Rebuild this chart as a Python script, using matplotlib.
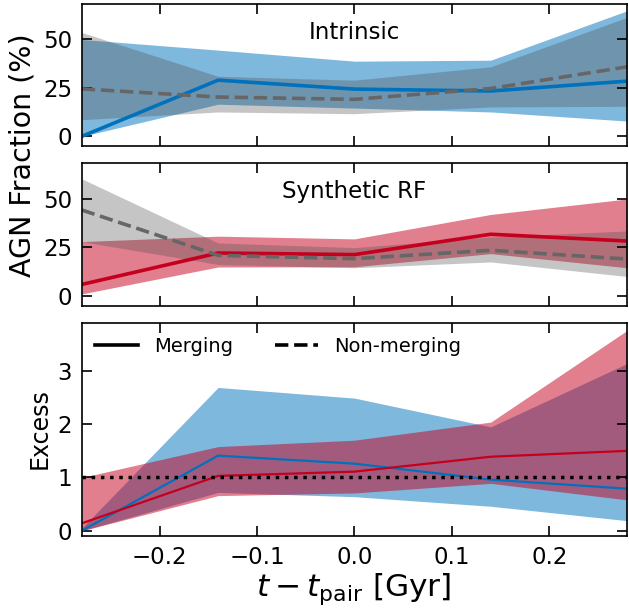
import numpy as np
import matplotlib
matplotlib.use('Agg')
import matplotlib.pyplot as plt

# time bins
t = [-0.28, -0.14, 0.0, 0.14, 0.28]

# intrinsic AGN fraction (%)
intr_merg = [0.0, 29.0, 24.4, 23.4, 28.5]
intr_merg_lo = [0.0, 16.6, 14.6, 12.6, 7.9]
intr_merg_hi = [50.0, 44.5, 38.8, 39.3, 64.8]
intr_non = [24.5, 20.3, 19.1, 24.7, 35.9]
intr_non_lo = [8.6, 12.6, 11.7, 15.2, 15.5]
intr_non_hi = [53.6, 31.0, 29.0, 35.9, 61.4]

# synthetic RF AGN fraction (%)
syn_merg = [5.9, 22.1, 21.3, 31.8, 28.3]
syn_merg_lo = [1.0, 14.9, 15.0, 21.8, 14.5]
syn_merg_hi = [28.0, 30.8, 29.4, 42.0, 50.0]
syn_non = [44.3, 20.9, 19.2, 23.5, 19.0]
syn_non_lo = [28.0, 16.2, 14.5, 17.5, 10.0]
syn_non_hi = [60.4, 27.3, 24.9, 30.4, 33.5]

# excess
exc_intr = [0.0, 1.41, 1.26, 0.96, 0.79]
exc_intr_lo = [0.0, 0.72, 0.64, 0.46, 0.19]
exc_intr_hi = [0.05, 2.69, 2.49, 1.95, 3.14]
exc_syn = [0.14, 1.03, 1.11, 1.39, 1.50]
exc_syn_lo = [0.0, 0.66, 0.71, 0.89, 0.58]
exc_syn_hi = [1.0, 1.58, 1.70, 2.04, 3.76]

blue = '#0072BD'
red = '#C5001E'
grey = '#505050'

plt.rcParams['font.family'] = 'DejaVu Sans'

fig = plt.figure(figsize=(6.29, 6.12), dpi=100)
gs = fig.add_gridspec(3, 1, height_ratios=[2, 2, 3], left=0.130, right=0.997,
                      top=0.9935, bottom=0.124, hspace=0.105)
ax1 = fig.add_subplot(gs[0])
ax2 = fig.add_subplot(gs[1])
ax3 = fig.add_subplot(gs[2])

for ax, m, mlo, mhi, n, nlo, nhi, c, lab in [
        (ax1, intr_merg, intr_merg_lo, intr_merg_hi, intr_non, intr_non_lo, intr_non_hi, blue, 'Intrinsic'),
        (ax2, syn_merg, syn_merg_lo, syn_merg_hi, syn_non, syn_non_lo, syn_non_hi, red, 'Synthetic RF')]:
    ax.fill_between(t, mlo, mhi, color=c, alpha=0.5, lw=0)
    ax.fill_between(t, nlo, nhi, color=grey, alpha=0.33, lw=0)
    ax.plot(t, m, color=c, lw=2.6)
    ax.plot(t, n, color='#666666', lw=2.6, ls='--')
    ax.set_ylim(-5, 68.3)
    ax.set_yticks([0, 25, 50])
    ax.set_xticklabels([])
    ax.text(0.5, 0.8, lab, transform=ax.transAxes, ha='center', va='center', fontsize=16.5)

ax3.fill_between(t, exc_intr_lo, exc_intr_hi, color=blue, alpha=0.5, lw=0)
ax3.fill_between(t, exc_syn_lo, exc_syn_hi, color=red, alpha=0.5, lw=0)
ax3.plot(t, exc_intr, color=blue, lw=1.6)
ax3.plot(t, exc_syn, color=red, lw=1.6)
ax3.axhline(1, color='k', ls=':', lw=2.5)
ax3.set_ylim(-0.1, 3.9)
ax3.set_yticks([0, 1, 2, 3])
ax3.plot([], [], color='k', lw=2.6, label='Merging')
ax3.plot([], [], color='k', lw=2.6, ls='--', label='Non-merging')
ax3.legend(loc='upper left', ncol=2, frameon=False, fontsize=14,
           handlelength=2.2, columnspacing=2.2, borderaxespad=0.3)

for ax in [ax1, ax2, ax3]:
    ax.set_xlim(-0.28, 0.28)
    ax.set_xticks([-0.2, -0.1, 0.0, 0.1, 0.2])
    ax.tick_params(direction='in', top=True, right=True, length=7, width=1.2,
                   labelsize=16.5, pad=7)
    for s in ax.spines.values():
        s.set_linewidth(1.2)

fig.text(0.035, 1 - 155 / 612, 'AGN Fraction (%)', rotation=90, ha='center', va='center', fontsize=20.5)
fig.text(40 / 629, 1 - 428.5 / 612, 'Excess', rotation=90, ha='center', va='center', fontsize=17)
fig.text(353.5 / 629, 1 - 589 / 612, r'$t - t_{\rm pair}$ [Gyr]', ha='center', va='center', fontsize=22.5)

fig.savefig('out.png', dpi=100)
